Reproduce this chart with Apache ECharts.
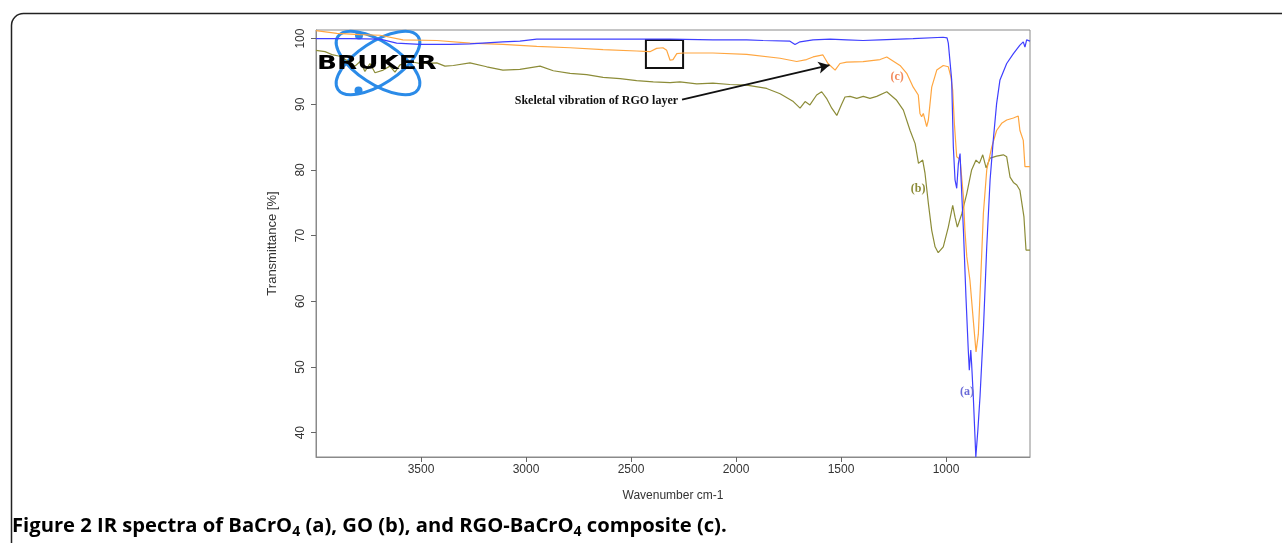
<!DOCTYPE html>
<html>
<head>
<meta charset="utf-8">
<script src="https://cdn.jsdelivr.net/npm/echarts@6/dist/echarts.min.js"></script>
<style>
html,body{margin:0;padding:0;background:#fff;}
#chart{width:1282px;height:543px;}
</style>
</head>
<body>
<div id="chart"></div>
<script>
// ---- Data ----
const xTicks = [1000, 1500, 2000, 2500, 3000, 3500];
const yTicks = [40, 50, 60, 70, 80, 90, 100];

// (a) BaCrO4 – blue
const waveA = [4000,3838,3695,3616,3505,3362,3267,3110,3029,2949,2790,2633,2314,2110,1949,1871,1743,1719,1695,1633,1552,1473,1395,1314,1157,1014,995,989,973,965,957,949,941,933,928,917,905,894,889,882,878,870,858,848,838,822,806,790,775,759,743,711,679,648,632,624,616,608,600];
const transA = [100.0,100.0,99.9,99.3,99.1,99.1,99.2,99.5,99.6,99.9,99.9,99.9,99.9,99.8,99.8,99.7,99.6,99.1,99.5,99.8,99.9,99.8,99.7,99.8,100.0,100.2,100.1,99.3,93.7,83.5,78.5,77.2,81.0,82.5,78.5,70.8,60.7,52.6,49.5,52.6,50.5,45.5,36.3,40.5,45.5,55.6,68.3,78.5,84.5,90.1,93.7,96.2,97.7,99.0,99.5,98.7,99.8,99.9,99.6];

// (b) GO – olive
const waveB = [4000,3957,3919,3886,3854,3814,3790,3767,3743,3719,3680,3648,3624,3600,3552,3505,3425,3386,3346,3267,3187,3110,3029,2933,2870,2790,2711,2633,2552,2473,2394,2314,2267,2187,2110,2029,1949,1854,1790,1727,1695,1671,1648,1616,1592,1569,1544,1520,1497,1481,1457,1425,1394,1362,1330,1282,1235,1203,1171,1147,1131,1124,1111,1100,1084,1068,1052,1037,1013,989,968,957,946,925,901,878,857,841,825,809,790,759,727,711,695,679,663,648,629,619,600];
const transB = [98.2,98.0,97.5,97.3,96.7,95.8,96.5,95.0,96.2,94.8,95.2,95.8,94.9,96.0,96.5,96.2,96.3,95.8,95.9,96.3,95.7,95.2,95.3,95.8,95.1,94.7,94.5,94.1,93.9,93.6,93.4,93.3,93.4,93.1,93.2,93.0,92.9,92.4,91.6,90.4,89.4,90.4,89.9,91.4,91.9,90.9,89.4,88.3,90.0,91.1,91.2,90.9,91.2,90.9,91.2,91.9,90.6,89.1,86.0,84.0,81.0,81.3,81.5,79.5,74.9,70.8,68.3,67.4,68.3,71.3,74.6,72.8,71.3,73.3,76.4,80.0,81.5,81.0,82.3,80.3,81.8,82.1,82.3,82.0,78.9,78.1,77.7,76.9,72.9,67.8,67.8];

// (c) RGO-BaCrO4 – orange
const waveC = [4000,3901,3790,3695,3586,3425,3267,3110,2949,2790,2633,2473,2410,2378,2348,2330,2314,2300,2282,2252,2110,1949,1790,1711,1664,1633,1586,1562,1528,1505,1473,1395,1314,1282,1219,1187,1156,1132,1124,1116,1108,1092,1084,1068,1044,1013,989,977,968,960,949,933,917,910,901,886,870,857,846,835,822,806,782,759,735,711,679,656,648,632,624,608,600];
const transC = [101.2,100.8,100.6,100.5,99.8,99.7,99.3,99.1,98.8,98.6,98.3,98.1,98.0,98.5,98.6,98.2,96.7,96.8,97.7,97.8,97.8,97.6,97.0,96.5,96.8,97.2,97.5,96.2,95.2,96.2,96.4,96.5,96.8,97.2,95.9,94.7,92.6,91.4,88.6,88.1,88.6,86.6,87.6,92.6,95.2,95.9,95.7,94.2,92.1,87.0,82.0,81.6,75.9,70.8,66.8,63.2,57.1,52.3,55.0,63.2,73.4,80.0,83.5,86.0,87.1,87.6,87.9,88.2,86.0,84.5,80.5,80.5,80.5];

const zip = (xs, ys) => xs.map((x, i) => [x, ys[i]]);

const chart = echarts.init(document.getElementById('chart'), null, {renderer: 'canvas'});

const axisFont = {fontFamily: '"Liberation Sans", Arial, sans-serif', fontSize: 12, color: '#333'};
const serifLabel = (txt, col) => ({
  show: true, position: 'inside', formatter: txt,
  fontFamily: '"Liberation Serif", "DejaVu Serif", serif', fontWeight: 'bold', fontSize: 12, color: col
});

const option = {
  animation: false,
  backgroundColor: '#ffffff',
  grid: {left: 316, right: 252, top: 30, bottom: 86, show: true, borderColor: '#8a8a8a', borderWidth: 1},
  xAxis: {
    type: 'value', inverse: true, min: 600, max: 4000,
    name: 'Wavenumber cm-1', nameLocation: 'middle', nameGap: 33,
    nameTextStyle: axisFont,
    axisLine: {show: true, onZero: false, lineStyle: {color: '#8a8a8a'}},
    axisTick: {show: true, length: 5, lineStyle: {color: '#666'}, customValues: xTicks},
    axisLabel: Object.assign({margin: 7, customValues: xTicks, formatter: v => String(v)}, axisFont),
    splitLine: {show: false}
  },
  yAxis: {
    type: 'value', min: 36.3, max: 101.3,
    name: 'Transmittance [%]', nameLocation: 'middle', nameGap: 37, nameRotate: 90,
    nameTextStyle: Object.assign({}, axisFont, {fontSize: 13}),
    axisLine: {show: true, onZero: false, lineStyle: {color: '#8a8a8a'}},
    axisTick: {show: true, length: 5, lineStyle: {color: '#666'}, customValues: yTicks},
    axisLabel: Object.assign({margin: 9, rotate: 90, customValues: yTicks, formatter: v => String(v)}, axisFont),
    splitLine: {show: false}
  },
  series: [
    {
      name: '(b) GO', type: 'line', data: zip(waveB, transB), showSymbol: false, symbol: 'none',
      lineStyle: {color: '#8c8c38', width: 1.2}, z: 2,
      markPoint: {silent: true, symbol: 'circle', symbolSize: 0,
        data: [{coord: [1133, 77.08], label: serifLabel('(b)', '#8c8c38')}]}
    },
    {
      name: '(c) RGO-BaCrO4', type: 'line', data: zip(waveC, transC), showSymbol: false, symbol: 'none',
      lineStyle: {color: '#ffa640', width: 1.2}, z: 3,
      markPoint: {silent: true, symbol: 'circle', symbolSize: 0,
        data: [
          {coord: [1233, 94.17], label: serifLabel('(c)', '#f2895a')},
          {coord: [2276, 90.47], label: Object.assign(serifLabel('Skeletal vibration of RGO layer', '#111'), {align: 'right'})}
        ]},
      markArea: {silent: true,
        itemStyle: {color: 'rgba(0,0,0,0)', borderColor: '#111', borderWidth: 2},
        data: [[{coord: [2429, 99.76]}, {coord: [2252, 95.5]}]]},
      markLine: {silent: true, symbol: ['none', 'arrow'], symbolSize: [9, 11],
        lineStyle: {color: '#111', width: 2, type: 'solid'}, label: {show: false},
        data: [[{coord: [2257, 90.7]}, {coord: [1555, 95.95]}]]}
    },
    {
      name: '(a) BaCrO4', type: 'line', data: zip(waveA, transA), showSymbol: false, symbol: 'none',
      lineStyle: {color: '#3f3fff', width: 1.2}, z: 4,
      markPoint: {silent: true, symbol: 'circle', symbolSize: 0,
        data: [{coord: [900, 46.2], label: serifLabel('(a)', '#6a6ad8')}]}
    }
  ],
  graphic: [
    // outer rounded figure frame
    {type: 'rect', left: 9, top: 11, z: 0, silent: true,
      shape: {x: 0, y: 0, width: 1320, height: 620, r: 12},
      style: {fill: 'none', stroke: '#222', lineWidth: 1.5}},
    // BRUKER logo
    {type: 'group', x: 378, y: 63, z: 100, silent: true, children: [
      {type: 'ellipse', rotation: -0.58, shape: {cx: 0, cy: 0, rx: 48, ry: 21},
        style: {fill: 'none', stroke: '#2b8be8', lineWidth: 3}},
      {type: 'ellipse', rotation: 0.58, shape: {cx: 0, cy: 0, rx: 48, ry: 21},
        style: {fill: 'none', stroke: '#2b8be8', lineWidth: 3}},
      {type: 'circle', shape: {cx: -19, cy: -27.5, r: 4}, style: {fill: '#2b8be8'}},
      {type: 'circle', shape: {cx: -19.5, cy: 27.5, r: 4}, style: {fill: '#2b8be8'}}
    ]},
    {type: 'text', x: 317, y: 63.5, scaleX: 1.31, z: 101, silent: true,
      style: {text: 'BRUKER', font: 'bold 20px "DejaVu Sans"', fill: '#000', align: 'left', verticalAlign: 'middle'}},
    // caption
    {type: 'text', left: 12, top: 516, z: 100, silent: true,
      style: {
        text: '{b|Figure 2 IR spectra of BaCrO}{s|4}{b| (a), GO (b), and RGO-BaCrO}{s|4}{b| composite (c).}',
        rich: {
          b: {fontFamily: '"Open Sans", "Noto Sans", sans-serif', fontWeight: 'bold', fontSize: 20.2, lineHeight: 27, verticalAlign: 'middle', fill: '#000'},
          s: {fontFamily: '"Open Sans", "Noto Sans", sans-serif', fontWeight: 'bold', fontSize: 14, lineHeight: 27, verticalAlign: 'bottom', fill: '#000'}
        }
      }}
  ]
};
chart.setOption(option);
</script>
</body>
</html>
